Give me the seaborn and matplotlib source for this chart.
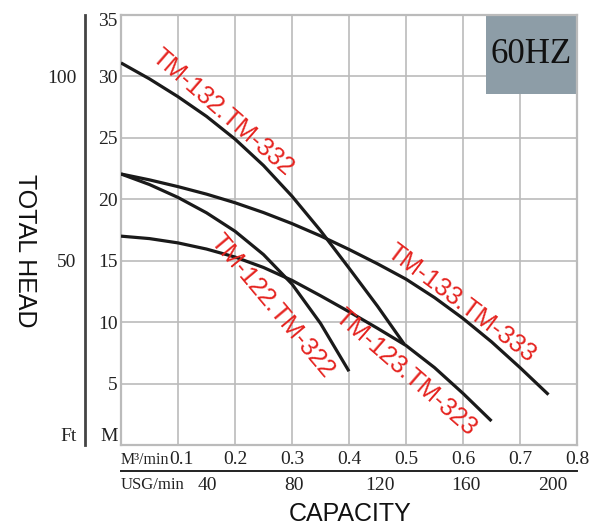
import numpy as np
import pandas as pd
import matplotlib
matplotlib.use("Agg")
import matplotlib.pyplot as plt
import matplotlib.transforms as mtransforms
from matplotlib.patches import Rectangle
import seaborn as sns

# ---------------- data ----------------
flow_132 = [0.00, 0.05, 0.10, 0.15, 0.20, 0.25, 0.30, 0.35, 0.40, 0.45, 0.497]
head_132 = [31.1, 29.8, 28.35, 26.75, 24.9, 22.75, 20.25, 17.45, 14.4, 11.3, 8.2]

flow_133 = [0.00, 0.05, 0.10, 0.15, 0.20, 0.25, 0.30, 0.35, 0.40, 0.45, 0.50, 0.55, 0.60, 0.65, 0.70, 0.75]
head_133 = [22.06, 21.58, 21.03, 20.42, 19.72, 18.92, 18.02, 17.02, 15.92, 14.75, 13.5, 12.0, 10.3, 8.4, 6.3, 4.1]

flow_122 = [0.00, 0.05, 0.10, 0.15, 0.20, 0.25, 0.30, 0.35, 0.40]
head_122 = [22.06, 21.2, 20.15, 18.9, 17.4, 15.5, 13.1, 9.9, 6.0]

flow_123 = [0.00, 0.05, 0.10, 0.15, 0.20, 0.25, 0.30, 0.35, 0.40, 0.45, 0.50, 0.55, 0.60, 0.65]
head_123 = [17.0, 16.8, 16.45, 15.95, 15.3, 14.45, 13.4, 12.15, 10.85, 9.5, 8.1, 6.3, 4.2, 1.95]

models = ["TM-132.TM-332", "TM-133.TM-333", "TM-122.TM-322", "TM-123.TM-323"]

m3_ticks = [0.1, 0.2, 0.3, 0.4, 0.5, 0.6, 0.7, 0.8]
m3_labels = ["0.1", "0.2", "0.3", "0.4", "0.5", "0.6", "0.7", "0.8"]
usg_ticks = [40, 80, 120, 160, 200]
usg_labels = ["40", "80", "120", "160", "200"]
m_ticks = [5, 10, 15, 20, 25, 30, 35]
m_labels = ["5", "10", "15", "20", "25", "30", "35"]
ft_ticks = [50, 100]
ft_labels = ["50", "100"]

GAL_PER_M3 = 264.172
FT_PER_M = 3.33

# ---------------- build table ----------------
frames = []
for name, fx, hy in zip(models,
                        [flow_132, flow_133, flow_122, flow_123],
                        [head_132, head_133, head_122, head_123]):
    frames.append(pd.DataFrame({"model": name, "flow": fx, "head": hy}))
df = pd.concat(frames, ignore_index=True)

# ---------------- style ----------------
sns.set_style("white")
plt.rcParams["font.family"] = ["Liberation Serif", "DejaVu Serif"]
SANS = ["Liberation Sans", "DejaVu Sans"]
GRID = "#BBBBBB"
RED = "#E5231F"

fig = plt.figure(figsize=(5.98, 5.28), dpi=100)
ax = fig.add_axes([121 / 598, 1 - 445 / 528, 456 / 598, 430 / 528])

ax.set_xlim(0, 0.8)
ax.set_ylim(0, 35)
ax.set_xticks(m3_ticks)
ax.set_xticklabels(m3_labels)
ax.set_yticks(m_ticks)
ax.set_yticklabels(m_labels)
ax.tick_params(axis="both", length=0, labelsize=14, colors="#222222")
ax.tick_params(axis="x", pad=4)
ax.tick_params(axis="y", pad=2.5)
ax.grid(True, color=GRID, linewidth=1.2)
ax.set_axisbelow(True)
for s in ax.spines.values():
    s.set_color(GRID)
    s.set_linewidth(1.6)

# shift the first flow label a little right and the top head label down (as in reference)
lab0 = ax.get_xticklabels()[0]
lab0.set_transform(lab0.get_transform() + mtransforms.ScaledTranslation(3 / 100, 0, fig.dpi_scale_trans))
labtop = ax.get_yticklabels()[-1]
labtop.set_transform(labtop.get_transform() + mtransforms.ScaledTranslation(0, -4 / 100, fig.dpi_scale_trans))

# curves
sns.lineplot(data=df, x="flow", y="head", hue="model",
             palette={m: "#1A1A1A" for m in models},
             estimator=None, sort=False, legend=False,
             linewidth=2.3, ax=ax, zorder=3)
for ln in ax.get_lines():
    ln.set_solid_joinstyle("round")
    ln.set_solid_capstyle("butt")
ax.set_xlabel("")
ax.set_ylabel("")

# 60HZ box
ax.add_patch(Rectangle((0.8004, 0.8163), 0.1996, 0.1837, transform=ax.transAxes,
                       facecolor="#8D9DA7", edgecolor="none", zorder=2))
ax.text(0.9, 0.907, "60HZ", transform=ax.transAxes, ha="center", va="center",
        fontsize=25, color="#111111", zorder=4)

# curve labels
label_pos = {
    "TM-132.TM-332": (0.178, 27.1, -41),
    "TM-133.TM-333": (0.597, 11.55, -37),
    "TM-122.TM-322": (0.265, 11.3, -50),
    "TM-123.TM-323": (0.499, 5.9, -41),
}
for name in models:
    x, y, rot = label_pos[name]
    ax.text(x, y, name, rotation=rot, rotation_mode="anchor", ha="center", va="center",
            fontsize=18, color=RED, family=SANS, zorder=5)

# "M" at zero, metres
ax.text(-0.007, 0.0, "M", transform=ax.transAxes, ha="right", va="bottom",
        fontsize=14, color="#222222")

# feet axis
secy = ax.secondary_yaxis(-0.079, functions=(lambda m: m * FT_PER_M, lambda f: f / FT_PER_M))
secy.set_yticks(ft_ticks)
secy.set_yticklabels(ft_labels)
secy.tick_params(length=0, pad=6, labelsize=14, colors="#222222")
secy.spines["left"].set_color("#444444")
secy.spines["left"].set_linewidth(2)
ax.text(-0.098, 0.0, "Ft", transform=ax.transAxes, ha="right", va="bottom",
        fontsize=14, color="#222222")

# USG axis
secx = ax.secondary_xaxis(-0.0605, functions=(lambda q: q * GAL_PER_M3, lambda g: g / GAL_PER_M3))
secx.set_xticks(usg_ticks)
secx.set_xticklabels(usg_labels)
secx.tick_params(length=0, pad=4, labelsize=14, colors="#222222")
secx.spines["bottom"].set_color("#222222")
secx.spines["bottom"].set_linewidth(1.4)

ax.text(0.0, -0.036, "M³/min", transform=ax.transAxes, ha="left", va="center",
        fontsize=11.5, color="#222222")
ax.text(0.0, -0.094, "USG/min", transform=ax.transAxes, ha="left", va="center",
        fontsize=12, color="#222222")

# axis titles
fig.text(0.585, 0.027, "CAPACITY", ha="center", va="center", fontsize=18,
         family=SANS, color="#111111")
fig.text(0.042, 0.525, "TOTAL HEAD", ha="center", va="center", rotation=-90,
         fontsize=18, family=SANS, color="#111111")

fig.savefig("out.png", dpi=100)
